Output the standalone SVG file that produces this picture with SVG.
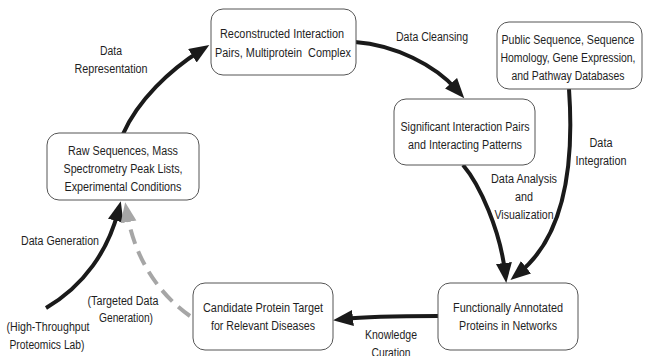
<svg xmlns="http://www.w3.org/2000/svg" width="651" height="356" viewBox="0 0 651 356">
<style>
.box{fill:#fff;stroke:#555;stroke-width:1}
text{font-family:"Liberation Sans",Arial,sans-serif;font-size:12.5px;fill:#1e1e1e;text-anchor:middle}
.arr{fill:none;stroke:#1a1a1a;stroke-width:4}
.dash{fill:none;stroke:#a6a6a6;stroke-width:4;stroke-dasharray:15 8}
</style>
<defs>
<marker id="ah" markerUnits="userSpaceOnUse" markerWidth="22" markerHeight="17" refX="9" refY="8" orient="auto"><path d="M0,0 L20,8 L0,16 z" fill="#1a1a1a"/></marker>
<marker id="ahg" markerUnits="userSpaceOnUse" markerWidth="22" markerHeight="17" refX="9" refY="8" orient="auto"><path d="M0,0 L20,8 L0,16 z" fill="#a6a6a6"/></marker>
</defs>
<rect width="651" height="356" fill="#fff"/>
<g id="connectors">
<path class="arr" d="M123,134 C138,100 170,70 200,51" marker-end="url(#ah)"/>
<path class="arr" d="M355,42 C395,45 435,65 457,90" marker-end="url(#ah)"/>
<path class="arr" d="M463,165 C480,185 500,230 505,272" marker-end="url(#ah)"/>
<path class="arr" d="M569,89 C574,160 566,235 519,273" marker-end="url(#ah)"/>
<path class="arr" d="M438,316 C410,316 370,316 344,319" marker-end="url(#ah)"/>
<path class="arr" d="M46,308 C85,285 108,250 118,212" marker-end="url(#ah)"/>
<path class="dash" d="M190,316 C160,295 135,260 127,213" marker-end="url(#ahg)"/>
</g>
<g id="reconstructed">
<rect class="box" x="211" y="9" width="145" height="66" rx="12"/>
<text x="282" y="38" textLength="124" lengthAdjust="spacingAndGlyphs">Reconstructed Interaction</text>
<text x="283" y="57" textLength="136" lengthAdjust="spacingAndGlyphs" xml:space="preserve">Pairs, Multiprotein  Complex</text>
</g>
<g id="public">
<rect class="box" x="497" y="22" width="145" height="67" rx="12"/>
<text x="568" y="44" textLength="133" lengthAdjust="spacingAndGlyphs">Public Sequence, Sequence</text>
<text x="568" y="62" textLength="135" lengthAdjust="spacingAndGlyphs">Homology, Gene Expression,</text>
<text x="568" y="80" textLength="113" lengthAdjust="spacingAndGlyphs">and Pathway Databases</text>
</g>
<g id="significant">
<rect class="box" x="394" y="99" width="141" height="66" rx="12"/>
<text x="465" y="131" textLength="129" lengthAdjust="spacingAndGlyphs">Significant Interaction Pairs</text>
<text x="465" y="149" textLength="114" lengthAdjust="spacingAndGlyphs">and Interacting Patterns</text>
</g>
<g id="raw">
<rect class="box" x="47" y="133" width="152" height="67" rx="12"/>
<text x="123" y="155" textLength="110" lengthAdjust="spacingAndGlyphs">Raw Sequences, Mass</text>
<text x="123" y="173" textLength="119" lengthAdjust="spacingAndGlyphs">Spectrometry Peak Lists,</text>
<text x="123" y="191" textLength="117" lengthAdjust="spacingAndGlyphs">Experimental Conditions</text>
</g>
<g id="candidate">
<rect class="box" x="193" y="283" width="140" height="67" rx="12"/>
<text x="263" y="312" textLength="120" lengthAdjust="spacingAndGlyphs">Candidate Protein Target</text>
<text x="263" y="330" textLength="104" lengthAdjust="spacingAndGlyphs">for Relevant Diseases</text>
</g>
<g id="functionally">
<rect class="box" x="438" y="283" width="140" height="67" rx="12"/>
<text x="508" y="312" textLength="110" lengthAdjust="spacingAndGlyphs">Functionally Annotated</text>
<text x="508" y="330" textLength="98" lengthAdjust="spacingAndGlyphs">Proteins in Networks</text>
</g>
<g id="labels">
<text x="111" y="55" textLength="22" lengthAdjust="spacingAndGlyphs">Data</text>
<text x="111" y="73" textLength="73" lengthAdjust="spacingAndGlyphs">Representation</text>
<text x="432" y="41" textLength="72" lengthAdjust="spacingAndGlyphs">Data Cleansing</text>
<text x="601" y="147" textLength="23" lengthAdjust="spacingAndGlyphs">Data</text>
<text x="601" y="165" textLength="51" lengthAdjust="spacingAndGlyphs">Integration</text>
<text x="524" y="183" textLength="66" lengthAdjust="spacingAndGlyphs">Data Analysis</text>
<text x="524" y="201" textLength="18" lengthAdjust="spacingAndGlyphs">and</text>
<text x="524" y="219" textLength="59" lengthAdjust="spacingAndGlyphs">Visualization</text>
<text x="391" y="339" textLength="52" lengthAdjust="spacingAndGlyphs">Knowledge</text>
<text x="391" y="357" textLength="39" lengthAdjust="spacingAndGlyphs">Curation</text>
<text x="60" y="245" textLength="78" lengthAdjust="spacingAndGlyphs">Data Generation</text>
<text x="123" y="305" textLength="71" lengthAdjust="spacingAndGlyphs">(Targeted Data</text>
<text x="126" y="322" textLength="54" lengthAdjust="spacingAndGlyphs">Generation)</text>
<text x="48" y="331" textLength="83" lengthAdjust="spacingAndGlyphs">(High-Throughput</text>
<text x="47" y="349" textLength="75" lengthAdjust="spacingAndGlyphs">Proteomics Lab)</text>
</g>
</svg>
